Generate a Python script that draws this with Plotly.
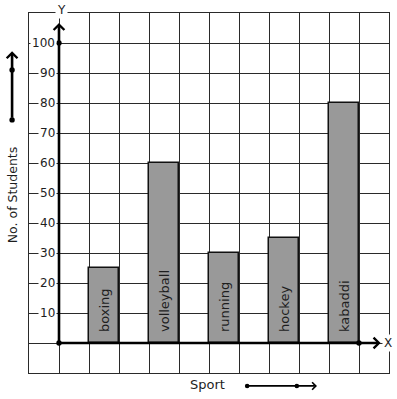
import plotly.graph_objects as go

# ---- data ----
sports = ["boxing", "volleyball", "running", "hockey", "kabaddi"]
students = [25, 60, 30, 35, 80]
y_tick_values = [10, 20, 30, 40, 50, 60, 70, 80, 90, 100]
y_tick_labels = ["10", "20", "30", "40", "50", "60", "70", "80", "90", "100"]
x_title = "Sport"
y_title = "No. of Students"

FONT = "DejaVu Sans"
GRID = "#2a2a2a"
TXT = "#1e1e1e"

# bars sit in every other grid cell, starting from the second cell right of the Y axis
xs = [1.5 + 2 * i for i in range(len(sports))]

fig = go.Figure()
fig.add_trace(go.Bar(
    x=xs, y=students, width=1,
    marker=dict(color="#999999", line=dict(color="#111111", width=1.5)),
    hoverinfo="skip", showlegend=False,
))

X_MIN, X_MAX, Y_MIN, Y_MAX = -1, 11, -10, 110
X_TIP, Y_TIP = 10.72, 106.7

fig.update_layout(
    width=397, height=399,
    margin=dict(l=29, r=8, t=13, b=26),
    paper_bgcolor="white", plot_bgcolor="white",
    font=dict(family=FONT, size=12, color=TXT),
    xaxis=dict(range=[X_MIN, X_MAX], tick0=0, dtick=1, showgrid=True, gridcolor=GRID,
               gridwidth=1, showticklabels=False, ticks="", zeroline=False,
               showline=True, mirror=True, linecolor=GRID, linewidth=1, fixedrange=True),
    yaxis=dict(range=[Y_MIN, Y_MAX], tick0=0, dtick=10, showgrid=True, gridcolor=GRID,
               gridwidth=1, showticklabels=False, ticks="", zeroline=False,
               showline=True, mirror=True, linecolor=GRID, linewidth=1, fixedrange=True),
    bargap=0,
)

ann = []
# y tick labels with white background (gridline stub shows to the left as a dash)
for v, lab in zip(y_tick_values, y_tick_labels):
    ann.append(dict(x=0, y=v, xref="x", yref="y", text=lab, showarrow=False,
                    xanchor="right", yanchor="middle", xshift=-2,
                    bgcolor="white", borderpad=1, font=dict(size=12, color=TXT)))

# bar labels
for x, s in zip(xs, sports):
    ann.append(dict(x=x, y=0, xref="x", yref="y", text=s, showarrow=False,
                    textangle=-90, xanchor="center", yanchor="bottom", yshift=9,
                    font=dict(size=13, color=TXT)))

# axes with arrows
ann.append(dict(x=0, y=Y_TIP, ax=0, ay=0, xref="x", yref="y", axref="x", ayref="y",
                text="", showarrow=True, arrowhead=4, arrowsize=0.8, arrowwidth=2.6,
                arrowcolor="black", standoff=0))
ann.append(dict(x=X_TIP, y=0, ax=0, ay=0, xref="x", yref="y", axref="x", ayref="y",
                text="", showarrow=True, arrowhead=4, arrowsize=0.8, arrowwidth=2.6,
                arrowcolor="black", standoff=0))
ann.append(dict(x=0, y=1, xref="x", yref="paper", text="Y", showarrow=False,
                xanchor="center", yanchor="middle", xshift=2, yshift=3,
                bgcolor="white", borderpad=1, font=dict(size=12, color=TXT)))
ann.append(dict(x=1, y=0, xref="paper", yref="y", text="X", showarrow=False,
                xanchor="center", yanchor="middle", xshift=-1,
                bgcolor="white", borderpad=1, font=dict(size=12, color=TXT)))

# axis titles with decorative arrows
ann.append(dict(x=-0.047, y=0.494, xref="paper", yref="paper", text=y_title,
                showarrow=False, textangle=-90, xanchor="center", yanchor="middle",
                font=dict(size=12.5, color=TXT)))
ann.append(dict(x=-0.047, y=0.894, xref="paper", yref="paper", ax=0, ay=68, text="",
                showarrow=True, arrowhead=4, arrowsize=0.8, arrowwidth=2.6,
                arrowcolor="black", standoff=0))
ann.append(dict(x=0.497, y=-0.033, xref="paper", yref="paper", text=x_title,
                showarrow=False, xanchor="center", yanchor="middle",
                font=dict(size=13, color=TXT)))
ann.append(dict(x=0.8, y=-0.036, xref="paper", yref="paper", ax=-70, ay=0, text="",
                showarrow=True, arrowhead=4, arrowsize=0.8, arrowwidth=1.8,
                arrowcolor="black", standoff=0))
fig.update_layout(annotations=ann)

# dots
def dot(x, y, xref, yref, r=2.7):
    return dict(type="circle", xref=xref, yref=yref, xsizemode="pixel", ysizemode="pixel",
                xanchor=x, yanchor=y, x0=-r, x1=r, y0=-r, y1=r,
                fillcolor="black", line=dict(width=0), layer="above")

shapes = [
    dot(0, 0, "x", "y"),
    dot(0, 100, "x", "y"),
    dot(10, 0, "x", "y"),
    dot(-0.047, 0.703, "paper", "paper"),
    dot(-0.047, 0.842, "paper", "paper"),
    dot(0.606, -0.036, "paper", "paper", r=2.3),
    dot(0.744, -0.036, "paper", "paper", r=2.3),
]
fig.update_layout(shapes=shapes)

fig.write_html("out.html", config={"displayModeBar": False},
               post_script="document.body.style.margin='0';")
